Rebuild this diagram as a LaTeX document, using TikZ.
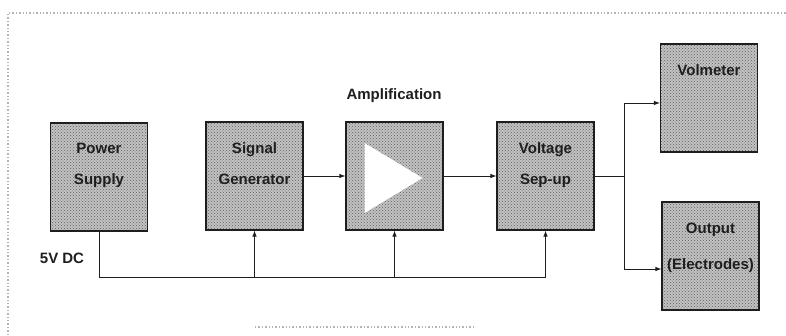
\documentclass[tikz,border=0pt]{standalone}
\usepackage{fontspec}
\setmainfont{Liberation Sans}
\usepackage{tikz}
\usetikzlibrary{arrows.meta,positioning,calc,patterns}
\definecolor{Ink}{HTML}{1E1E1E}
\definecolor{DotGrey}{HTML}{5E5E5E}
\definecolor{PaperGrey}{HTML}{C2C2C2}
\definecolor{ScanGrey}{HTML}{B4B4B4}

\begin{document}
\begin{tikzpicture}[x=1pt,y=1pt]
  \path[use as bounding box] (0,0) rectangle (786,335);
  \tikzset{
    svBlock/.style={
      draw=Ink, line width=1.1pt, preaction={fill=PaperGrey},
      pattern=crosshatch dots, pattern color=DotGrey,
      minimum width=97pt, minimum height=108pt, inner sep=0pt
    },
    svLabel/.style={
      font=\fontsize{15}{31}\selectfont\bfseries, text=Ink,
      align=center, inner sep=0pt
    },
    svFlow/.style={
      -{Latex[length=6pt,width=4.5pt]}, draw=Ink, line width=.9pt
    },
    svWire/.style={draw=Ink, line width=.9pt},
    svScan/.style={draw=ScanGrey, line width=1.4pt, dotted}
  }

  % scanned page edges
  \draw[svScan] (8,0) -- (8,322) -- (786,322);
  \draw[svScan] (255,8) -- (475,8);

  \node[svBlock] (supply) at (99,158) {};
  \node[svBlock] (generator) at (254.5,159) {};
  \node[svBlock] (amplifier) at (394.5,159) {};
  \node[svBlock] (stepup) at (545.5,159) {};
  \node[svBlock] (voltmeter) at (709,237) {};
  \node[svBlock] (electrodes) at (710.5,79) {};

  \fill[white] ($(amplifier.center)+(-30,33)$) -- ($(amplifier.center)+(28,-2)$)
    -- ($(amplifier.center)+(-30,-37)$) -- cycle;

  \node[svLabel, below=21pt of supply.north] (supplyText) {Power\\Supply};
  \node[svLabel, below=21pt of generator.north] (generatorText) {Signal\\Generator};
  \node[svLabel, below=21pt of stepup.north] (stepupText) {Voltage\\Sep-up};
  \node[svLabel, below=21pt of voltmeter.north] (voltmeterText) {Volmeter};
  \node[svLabel, below=21pt of electrodes.north] (electrodesText)
    {Output\\[5pt](Electrodes)};

  \node[svLabel] (ampTitle) at (394,239) {Amplification};
  \node[svLabel] (dcText) at (62,77) {5V DC};

  \draw[svFlow] (generator.east) -- (amplifier.west);
  \draw[svFlow] (amplifier.east) -- (stepup.west);
  \coordinate (split) at (624,159);
  \draw[svWire] (stepup.east) -- (split);
  \draw[svFlow] (split) |- ([yshift=-5pt]voltmeter.west);
  \draw[svFlow] (split) |- ([yshift=-13pt]electrodes.west);

  \coordinate (busEnd) at (545.5,58);
  \draw[svWire] (supply.south) |- (busEnd);
  \foreach \blk in {generator,amplifier,stepup}
    \draw[svFlow] (\blk.south |- busEnd) -- (\blk.south);
\end{tikzpicture}
\end{document}
